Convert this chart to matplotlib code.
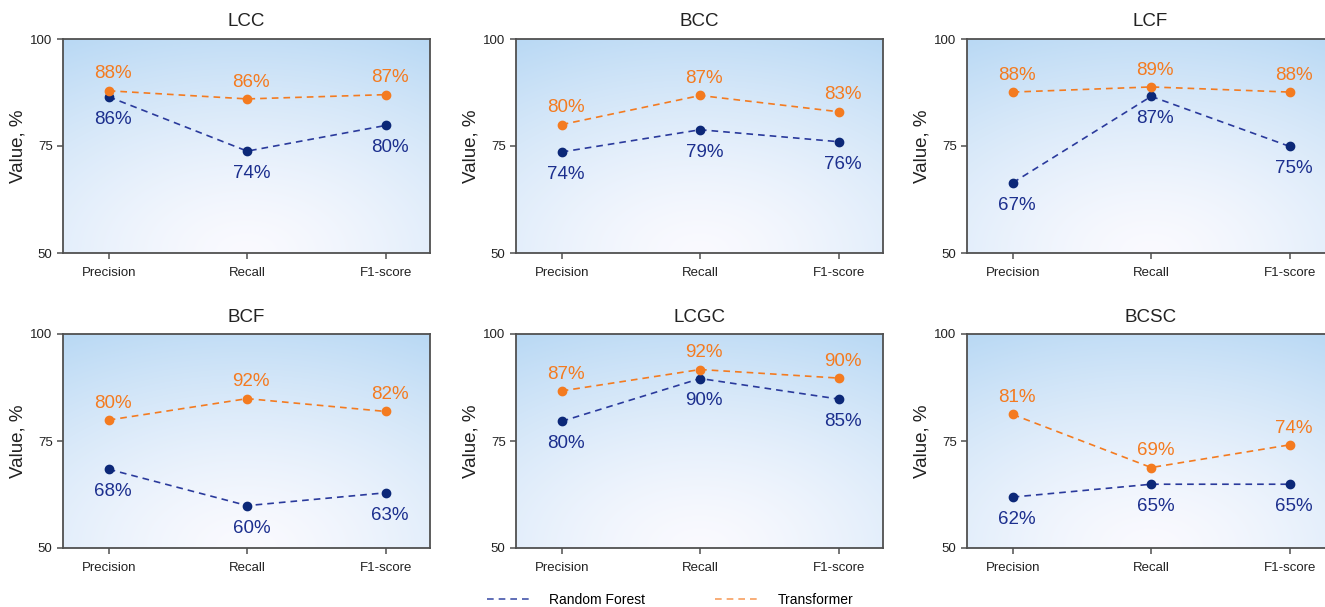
import numpy as np
import matplotlib
matplotlib.use("Agg")
import matplotlib.pyplot as plt
from matplotlib.lines import Line2D

plt.rcParams['font.family'] = ['Liberation Sans', 'DejaVu Sans']

metrics = ["Precision", "Recall", "F1-score"]
panels = ["LCC", "BCC", "LCF", "BCF", "LCGC", "BCSC"]

# point positions
rf_values = {
    "LCC": [86.5, 73.8, 79.8],
    "BCC": [73.6, 78.8, 76.0],
    "LCF": [66.4, 86.6, 74.9],
    "BCF": [68.4, 59.9, 62.9],
    "LCGC": [79.6, 89.6, 84.8],
    "BCSC": [61.9, 64.9, 64.9],
}
tf_values = {
    "LCC": [87.9, 86.0, 87.0],
    "BCC": [80.0, 86.8, 83.0],
    "LCF": [87.6, 88.8, 87.6],
    "BCF": [79.9, 84.9, 81.9],
    "LCGC": [86.7, 91.7, 89.7],
    "BCSC": [81.2, 68.8, 74.1],
}
# printed labels
rf_labels = {
    "LCC": [86, 74, 80],
    "BCC": [74, 79, 76],
    "LCF": [67, 87, 75],
    "BCF": [68, 60, 63],
    "LCGC": [80, 90, 85],
    "BCSC": [62, 65, 65],
}
tf_labels = {
    "LCC": [88, 86, 87],
    "BCC": [80, 87, 83],
    "LCF": [88, 89, 88],
    "BCF": [80, 92, 82],
    "LCGC": [87, 92, 90],
    "BCSC": [81, 69, 74],
}

RF_LINE = "#2a3a9c"
RF_MARK = "#0c2878"
RF_TEXT = "#1c2f8e"
TF_COLOR = "#f47b20"
SPINE = "#505050"

W, H = 1325, 607
fig = plt.figure(figsize=(W / 100, H / 100), dpi=100)

lefts = [63, 516, 967]
tops = [39, 334]
aw, ah = 367, 214

# gradient image (elliptical, centred at bottom middle)
gx, gy = 220, 130
xx, yy = np.meshgrid(np.linspace(0, aw, gx), np.linspace(0, ah, gy))
r = np.sqrt(((xx - aw / 2) / 400.0) ** 2 + (yy / 245.0) ** 2)
t = np.clip(r, 0, 1) ** 1.4
blue = np.array([0.72, 0.847, 0.957])
white = np.array([0.98, 0.98, 0.998])
grad = white[None, None, :] * (1 - t[..., None]) + blue[None, None, :] * t[..., None]

x = np.arange(len(metrics))
for i, name in enumerate(panels):
    row, col = divmod(i, 3)
    l = lefts[col]
    tp = tops[row]
    ax = fig.add_axes([l / W, 1 - (tp + ah) / H, aw / W, ah / H])
    ax.imshow(grad, extent=[0, 1, 0, 1], transform=ax.transAxes, origin="lower",
              aspect="auto", zorder=0, interpolation="bilinear")
    ax.plot(x, rf_values[name], ls="--", color=RF_LINE, lw=1.2, dashes=(4, 3), zorder=3)
    ax.plot(x, rf_values[name], ls="none", marker="o", ms=6, color=RF_MARK, zorder=4)
    ax.plot(x, tf_values[name], ls="--", color=TF_COLOR, lw=1.2, dashes=(4, 3), zorder=3)
    ax.plot(x, tf_values[name], ls="none", marker="o", ms=6, color=TF_COLOR, zorder=4)
    for xi, v, lab in zip(x, tf_values[name], tf_labels[name]):
        ax.annotate(f"{lab}%", (xi, v), xytext=(3, 6), textcoords="offset points",
                    ha="center", va="bottom", fontsize=13.5, color=TF_COLOR, zorder=5)
    for xi, v, lab in zip(x, rf_values[name], rf_labels[name]):
        ax.annotate(f"{lab}%", (xi, v), xytext=(3, -10), textcoords="offset points",
                    ha="center", va="top", fontsize=13.5, color=RF_TEXT, zorder=5)
    ax.set_xlim(-0.33, 2.32)
    ax.set_ylim(50, 100)
    ax.set_yticks([50, 75, 100])
    ax.set_xticks(x)
    ax.set_xticklabels(metrics)
    ax.tick_params(axis="both", labelsize=9.5, colors=SPINE, labelcolor="#222222",
                   length=4, width=1.1, direction="out")
    ax.tick_params(axis="x", pad=6)
    for s in ax.spines.values():
        s.set_color(SPINE)
        s.set_linewidth(1.3)
    ax.set_title(name, fontsize=13.5, color="#222222", pad=9)
    ax.set_ylabel("Value, %", fontsize=13.5, color="#222222", labelpad=3)

handles = [Line2D([0], [0], ls="--", color="#4455aa", lw=1.2, dashes=(4, 3)),
           Line2D([0], [0], ls="--", color="#f7a060", lw=1.2, dashes=(4, 3))]
fig.legend(handles, ["Random Forest", "Transformer"], loc="center",
           bbox_to_anchor=(670 / W, 1 - 600 / H), ncol=2, frameon=False,
           fontsize=10, handlelength=3.0, handletextpad=1.5, columnspacing=5.0)

fig.savefig("out.png", dpi=100)
